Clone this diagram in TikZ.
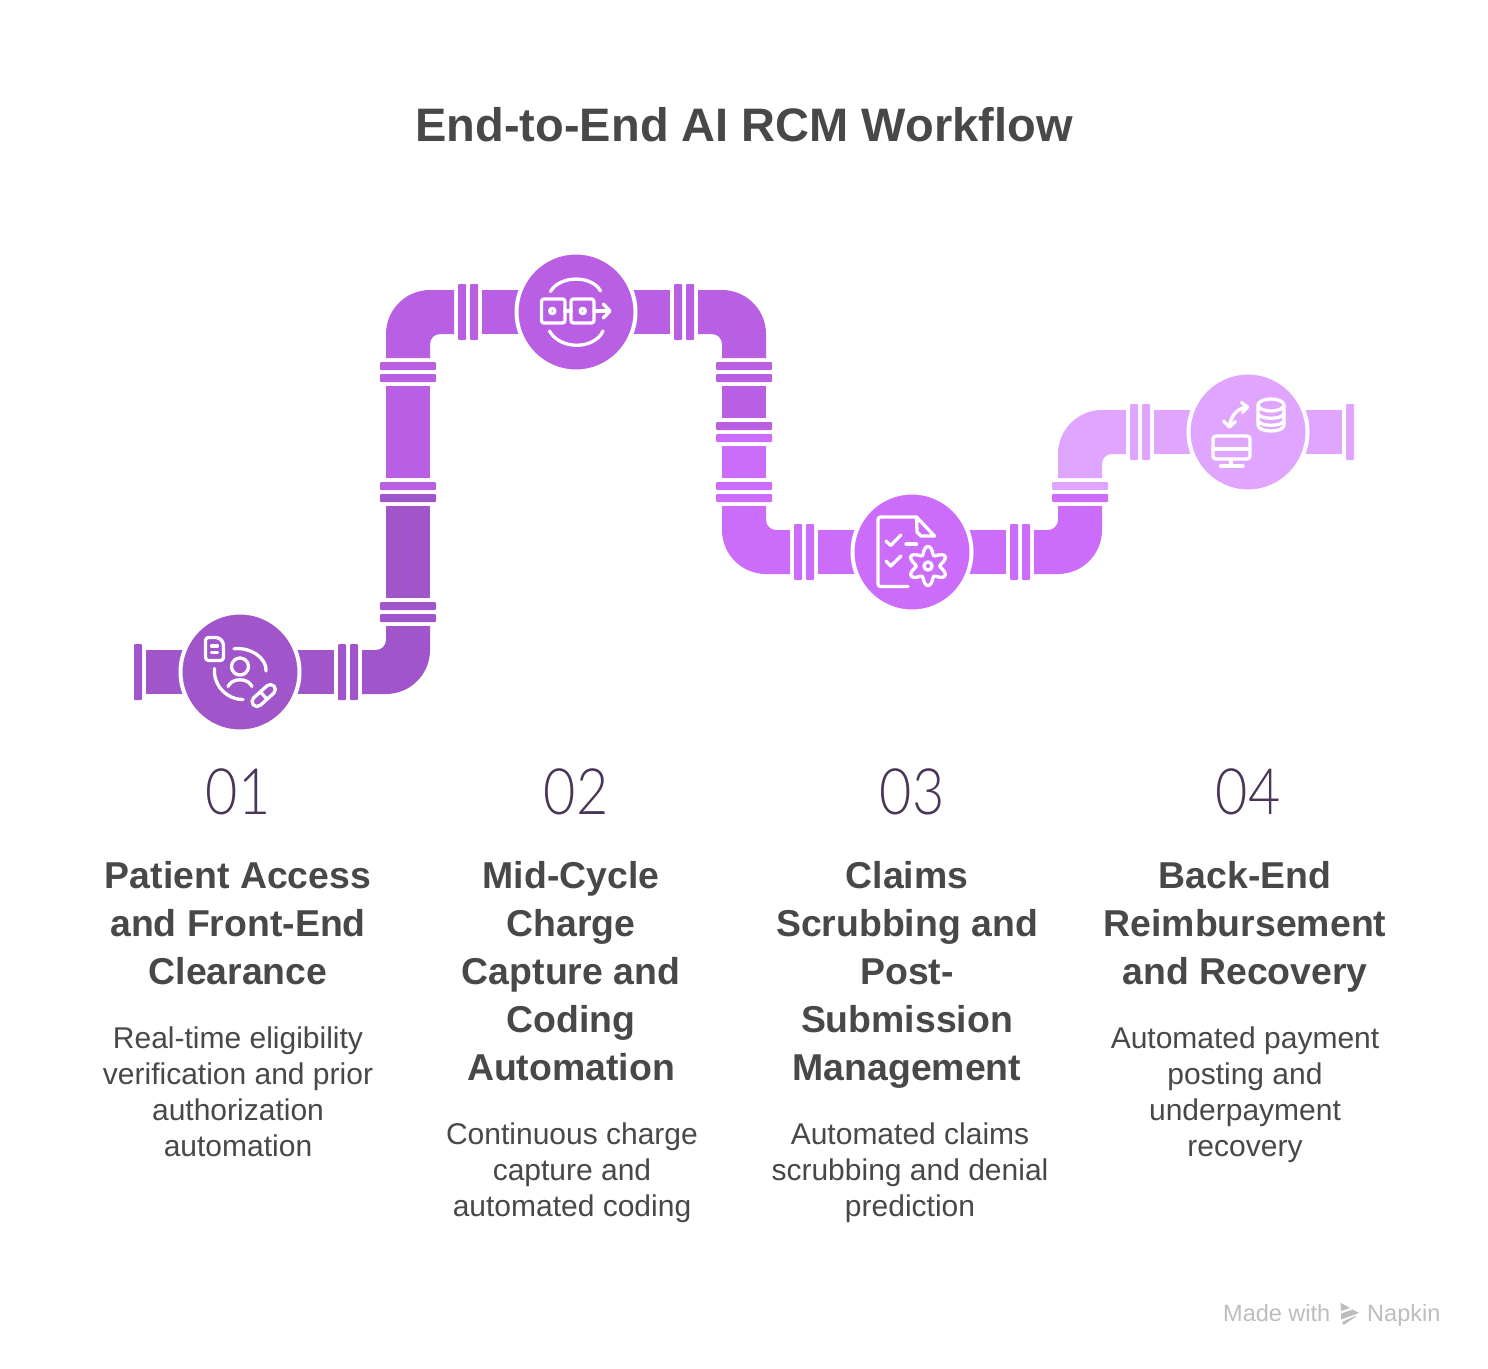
\documentclass[tikz,border=0pt]{standalone}
\usepackage{fontspec}
\setmainfont{Liberation Sans}
\newfontfamily\numfont[FakeStretch=0.87]{Lato Light}
\definecolor{pipeA}{HTML}{A155CA}
\definecolor{pipeB}{HTML}{B85FE4}
\definecolor{pipeC}{HTML}{CC6CFB}
\definecolor{pipeD}{HTML}{E0A6FF}
\definecolor{inkdark}{HTML}{484848}
\definecolor{inknum}{HTML}{4A3558}
\definecolor{inkmark}{HTML}{BDBDBD}
\tikzset{
  flange/.style={fill=#1,rounded corners=1pt},
  hub/.style={circle,fill=#1,draw=white,line width=4pt,minimum size=119pt,inner sep=0pt,outer sep=0pt},
  icon/.style={draw=white,line width=3.3pt,line cap=round,line join=round},
  titletext/.style={font=\fontsize{47}{56}\selectfont\bfseries,text=inkdark,inner sep=0pt},
  numtext/.style={font=\numfont\fontsize{64}{70}\selectfont,text=inknum,inner sep=0pt,anchor=base},
  headtext/.style={font=\fontsize{37.4}{48}\selectfont\bfseries,text=inkdark,inner sep=0pt,anchor=north,align=center},
  bodytext/.style={font=\fontsize{30}{36}\selectfont,text=inkdark,inner sep=0pt,anchor=north,align=center},
  marktext/.style={font=\fontsize{23.5}{26}\selectfont,text=inkmark,inner sep=0pt,anchor=base west},
}
\newcommand{\pipeelbow}[5]{%
  \begin{scope}[shift={(#1,#2)},xscale=#3,yscale=#4]
    \fill[#5] (68,0) -- (44,0) .. controls (19.7,0) and (0,19.7) .. (0,44) -- (0,68) -- (44,68) -- (44,54)
      .. controls (44,48.5) and (48.5,44) .. (54,44) -- (68,44) -- cycle;
  \end{scope}}
\begin{document}
\begin{tikzpicture}[x=1pt,y=-1pt]
\useasboundingbox (0,0) rectangle (1488,1368);
\fill[white] (0,0) rectangle (1488,1368);

% ---------- segment 1
\fill[flange=pipeA] (134,644) rectangle (142,700);
\fill[pipeA] (146,650) rectangle (240,694);
\fill[pipeA] (240,650) rectangle (334,694);
\fill[flange=pipeA] (338,644) rectangle (346,700);
\fill[flange=pipeA] (350,644) rectangle (358,700);
\pipeelbow{430}{694}{-1}{-1}{pipeA}
\fill[flange=pipeA] (380,614) rectangle (436,622);
\fill[flange=pipeA] (380,602) rectangle (436,610);
\fill[pipeA] (386,506) rectangle (430,598);
\fill[flange=pipeA] (380,494) rectangle (436,502);
% ---------- segment 2
\fill[flange=pipeB] (380,482) rectangle (436,490);
\fill[pipeB] (386,386) rectangle (430,478);
\fill[flange=pipeB] (380,374) rectangle (436,382);
\fill[flange=pipeB] (380,362) rectangle (436,370);
\pipeelbow{386}{290}{1}{1}{pipeB}
\fill[flange=pipeB] (458,284) rectangle (466,340);
\fill[flange=pipeB] (470,284) rectangle (478,340);
\fill[pipeB] (482,290) rectangle (670,334);
\fill[flange=pipeB] (674,284) rectangle (682,340);
\fill[flange=pipeB] (686,284) rectangle (694,340);
\pipeelbow{766}{290}{-1}{1}{pipeB}
\fill[flange=pipeB] (716,362) rectangle (772,370);
\fill[flange=pipeB] (716,374) rectangle (772,382);
\fill[pipeB] (722,386) rectangle (766,418);
\fill[flange=pipeB] (716,422) rectangle (772,430);
% ---------- segment 3
\fill[flange=pipeC] (716,434) rectangle (772,442);
\fill[pipeC] (722,446) rectangle (766,478);
\fill[flange=pipeC] (716,482) rectangle (772,490);
\fill[flange=pipeC] (716,494) rectangle (772,502);
\pipeelbow{722}{574}{1}{-1}{pipeC}
\fill[flange=pipeC] (794,524) rectangle (802,580);
\fill[flange=pipeC] (806,524) rectangle (814,580);
\fill[pipeC] (818,530) rectangle (1006,574);
\fill[flange=pipeC] (1010,524) rectangle (1018,580);
\fill[flange=pipeC] (1022,524) rectangle (1030,580);
\pipeelbow{1102}{574}{-1}{-1}{pipeC}
\fill[flange=pipeC] (1052,494) rectangle (1108,502);
% ---------- segment 4
\fill[flange=pipeD] (1052,482) rectangle (1108,490);
\pipeelbow{1058}{410}{1}{1}{pipeD}
\fill[flange=pipeD] (1130,404) rectangle (1138,460);
\fill[flange=pipeD] (1142,404) rectangle (1150,460);
\fill[pipeD] (1154,410) rectangle (1342,454);
\fill[flange=pipeD] (1346,404) rectangle (1354,460);

% ---------- hubs
\node[hub=pipeA] (hub1) at (240,672) {};
\node[hub=pipeB] (hub2) at (576,312) {};
\node[hub=pipeC] (hub3) at (912,552) {};
\node[hub=pipeD] (hub4) at (1248,432) {};

% ---------- icon 1: document, person, capsule
\draw[icon,rounded corners=3pt] (205.5,637.5) -- (219,637.5) -- (223.5,642.5) -- (223.5,660.5) -- (205.5,660.5) -- cycle;
\draw[icon] (211.5,646) -- (217.5,646) (211.5,652.5) -- (217.5,652.5);
\draw[icon] (240,666.5) circle[radius=8.5];
\draw[icon] (228,686.5) .. controls (232,677.5) and (248,677.5) .. (252,686.5);
\draw[icon] (234,648.7) .. controls (252,647) and (267,659) .. (266,671);
\draw[icon] (214.5,668.5) .. controls (213,686) and (228,700) .. (243,699.5);
\begin{scope}[shift={(263.7,695.5)},rotate=42]
  \draw[icon,rounded corners=5pt] (-14,-5) rectangle (14,5);
  \draw[icon] (0,-5) -- (0,5);
\end{scope}

% ---------- icon 2: linked squares and arrow
\draw[icon] (550.5,291.5) .. controls (560,275) and (592,275) .. (600.5,291);
\draw[icon] (549.5,331) .. controls (560,350) and (594,350) .. (603,331);
\draw[icon,rounded corners=2.5pt] (541.5,299) rectangle (565,323);
\draw[icon,rounded corners=2.5pt] (571,299) rectangle (594,323);
\draw[icon] (552.3,311) circle[radius=2.6];
\draw[icon] (582.7,311) circle[radius=2.6];
\draw[icon] (565,311) -- (571,311);
\draw[icon] (594,311) -- (609,311);
\draw[icon] (603.3,304) -- (610,311) -- (603.3,318);

% ---------- icon 3: checklist and gear
\draw[icon,rounded corners=2.5pt] (908,586.5) -- (878,586.5) -- (878,517) -- (916.5,517);
\draw[icon] (916.5,517) -- (934.5,536) -- (921,536) -- (917,532) -- cycle;
\draw[icon] (886,541) -- (890.7,545.5) -- (901,535);
\draw[icon] (906,544) -- (916.5,544);
\draw[icon] (886,561) -- (890.7,566) -- (901,556);
\draw[icon] (928,566) circle[radius=4];
\draw[icon] plot[domain=0:360,samples=145,smooth] ({928+(15.7-3.8*cos(6*\x))*cos(\x)},{566+(15.7-3.8*cos(6*\x))*sin(\x)});

% ---------- icon 4: database, monitor, arrows
\draw[icon] (1271,405) ellipse[x radius=13,y radius=6];
\draw[icon] (1258,405) -- (1258,425) .. controls (1258,433) and (1284,433) .. (1284,425) -- (1284,405);
\draw[icon] (1258,413) .. controls (1258,420) and (1284,420) .. (1284,413);
\draw[icon] (1258,420) .. controls (1258,427) and (1284,427) .. (1284,420);
\draw[icon,rounded corners=3pt] (1213,436) rectangle (1250,459);
\draw[icon] (1213,449) -- (1250,449);
\draw[icon] (1231,459) -- (1231,466);
\draw[icon] (1220.5,466) -- (1243,466);
\draw[icon] (1247,407) .. controls (1238,408) and (1231,415) .. (1229.5,426);
\draw[icon] (1241.5,402.5) -- (1247.5,407) -- (1242.5,412.5);
\draw[icon] (1223.5,421) -- (1229.5,427) -- (1235.5,421.5);

% ---------- texts
\node[titletext] (title) at (744,125) {End-to-End AI RCM Workflow};

\node[numtext] (num1) at (238,814) {01};
\node[numtext] (num2) at (576,814) {02};
\node[numtext] (num3) at (912,814) {03};
\node[numtext] (num4) at (1248,814) {04};

\node[headtext] (head1) at (238,854.4) {\strut Patient Access\\and Front-End\\Clearance};
\node[headtext] (head2) at (571,854.4) {\strut Mid-Cycle\\Charge\\Capture and\\Coding\\Automation};
\node[headtext] (head3) at (907,854.4) {\strut Claims\\Scrubbing and\\Post-\\Submission\\Management};
\node[headtext] (head4) at (1245,854.4) {\strut Back-End\\Reimbursement\\and Recovery};

\node[bodytext] (body1) at (238,1022.8) {\strut Real-time eligibility\\verification and prior\\authorization\\automation};
\node[bodytext] (body2) at (572,1118.8) {\strut Continuous charge\\capture and\\automated coding};
\node[bodytext] (body3) at (910,1118.8) {\strut Automated claims\\scrubbing and denial\\prediction};
\node[bodytext] (body4) at (1245,1022.8) {\strut Automated payment\\posting and\\underpayment\\recovery};

% ---------- watermark
\node[marktext] (made) at (1223,1321) {Made with};
\fill[inkmark] (1340.5,1302.7) -- (1350,1308) -- (1341,1311) -- cycle;
\fill[inkmark] (1341,1313.5) -- (1352.5,1309.5) -- (1359,1313) -- (1341,1319.5) -- cycle;
\fill[inkmark] (1342,1322) -- (1355,1316) -- (1356,1316.5) -- (1343.5,1325) -- cycle;
\node[marktext] (napkin) at (1367,1321) {Napkin};
\end{tikzpicture}
\end{document}
